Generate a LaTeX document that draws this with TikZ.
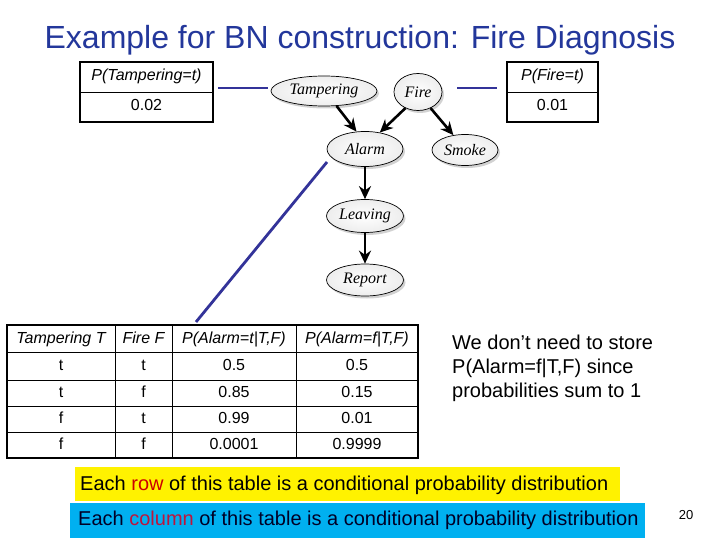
\documentclass[tikz,border=0pt]{standalone}
\usepackage{fontspec}
\setmainfont{Liberation Sans}
\newfontfamily\bnserif{Liberation Serif}
\usetikzlibrary{shapes.geometric,arrows.meta,shadows}
\definecolor{titleblue}{RGB}{35,55,155}
\definecolor{linkblue}{RGB}{51,51,153}
\definecolor{boxblue}{RGB}{0,176,240}
\definecolor{rowred}{RGB}{204,0,0}
\definecolor{colred}{RGB}{190,20,60}
\tikzset{
  bnnode/.style={ellipse, draw=black, line width=0.7pt, inner sep=0pt,
    shading=radial, inner color=white, outer color=gray!14,
    drop shadow={shadow xshift=2pt, shadow yshift=-2.5pt, opacity=0.35},
    font=\bnserif\itshape\fontsize{16}{18}\selectfont},
  bnarrow/.style={line width=2.6pt, -{Stealth[length=13pt,width=12pt]}},
  link/.style={line width=2.8pt, linkblue},
  cell/.style={font=\fontsize{16}{18}\selectfont, inner sep=0pt, text height=11.5pt, text depth=3.5pt},
  hcell/.style={font=\itshape\fontsize{16}{18}\selectfont, inner sep=0pt, text height=11.5pt, text depth=3.5pt},
  frame/.style={line width=1.6pt},
  grid/.style={line width=0.8pt}
}
\begin{document}
\begin{tikzpicture}[x=1pt,y=-1pt]
\useasboundingbox (0,0) rectangle (720,540);
\fill[white] (0,0) rectangle (720,540);

\node[font=\fontsize{32}{36}\selectfont, text=titleblue] (title) at (360,40) {Example for BN construction: Fire Diagnosis};

% prior tables
\draw[grid] (80,92) -- (213,92);
\draw[frame] (80,62) rectangle (213,122);
\node[hcell] (ptamp) at (146.5,77) {P(Tampering=t)};
\node[cell] (ptampv) at (146.5,107) {0.02};
\draw[grid] (507,92) -- (598,92);
\draw[frame] (507,62) rectangle (598,122);
\node[hcell] (pfire) at (552.5,77) {P(Fire=t)};
\node[cell] (pfirev) at (552.5,107) {0.01};

% network
\node[bnnode, minimum width=106pt, minimum height=30pt] (tamp) at (324,91) {Tampering};
\node[bnnode, minimum width=48pt, minimum height=37pt] (fire) at (418,92) {Fire};
\node[bnnode, minimum width=76pt, minimum height=35pt] (alarm) at (365,149) {Alarm};
\node[bnnode, minimum width=66pt, minimum height=31pt] (smoke) at (465,150) {Smoke};
\node[bnnode, minimum width=77pt, minimum height=33pt] (leave) at (365,216) {Leaving};
\node[bnnode, minimum width=77pt, minimum height=32pt] (report) at (365,280) {Report};

\draw[bnarrow] (tamp.-50) -- (alarm.116);
\draw[bnarrow] (fire.-128) -- (alarm.48);
\draw[bnarrow] (fire.-52) -- (smoke.128);
\draw[bnarrow] (alarm) -- (leave);
\draw[bnarrow] (leave) -- (report);

% blue links
\coordinate (l1a) at (218,88); \coordinate (l1b) at (268,88);
\coordinate (l2a) at (457,88); \coordinate (l2b) at (497,88);
\coordinate (l3a) at (327,162); \coordinate (l3b) at (196,322);
\draw[link] (l1a) -- (l1b);
\draw[link] (l2a) -- (l2b);
\draw[link] (l3a) -- (l3b);

% CPT
\foreach \yy in {352,380,406,432} \draw[grid] (7,\yy) -- (418,\yy);
\foreach \xx in {115,172,296} \draw[grid] (\xx,325) -- (\xx,458);
\draw[frame] (7,325) rectangle (418,458);
\node[hcell] (h1) at (61,339) {Tampering T};
\node[hcell] (h2) at (143.5,339) {Fire F};
\node[hcell] (h3) at (234,339) {P(Alarm=t|T,F)};
\node[hcell] (h4) at (357,339) {P(Alarm=f|T,F)};
\node[cell] at (61,366) {t};   \node[cell] at (143.5,366) {t}; \node[cell] at (234,366) {0.5};    \node[cell] at (357,366) {0.5};
\node[cell] at (61,393) {t};   \node[cell] at (143.5,393) {f}; \node[cell] at (234,393) {0.85};   \node[cell] at (357,393) {0.15};
\node[cell] at (61,419) {f};   \node[cell] at (143.5,419) {t}; \node[cell] at (234,419) {0.99};   \node[cell] at (357,419) {0.01};
\node[cell] at (61,445) {f};   \node[cell] at (143.5,445) {f}; \node[cell] at (234,445) {0.0001}; \node[cell] at (357,445) {0.9999};

\node[anchor=north west, align=left, inner sep=0pt, font=\fontsize{20}{24}\selectfont] (note) at (452,335)
  {We don’t need to store\\P(Alarm=f|T,F) since\\probabilities sum to 1};

% banners
\fill[yellow] (75,467) rectangle (620,501);
\node[anchor=west, inner sep=0pt, font=\fontsize{20}{22}\selectfont] (rowtxt) at (80,485)
  {Each \textcolor{rowred}{row} of this table is a conditional probability distribution};
\fill[boxblue] (70,503) rectangle (645,538);
\node[anchor=west, inner sep=0pt, font=\fontsize{20}{22}\selectfont, text=black!85!blue] (coltxt) at (78,520)
  {Each \textcolor{colred}{column} of this table is a conditional probability distribution};
\node[font=\fontsize{13}{15}\selectfont] (pg) at (686,515) {20};
\end{tikzpicture}
\end{document}
